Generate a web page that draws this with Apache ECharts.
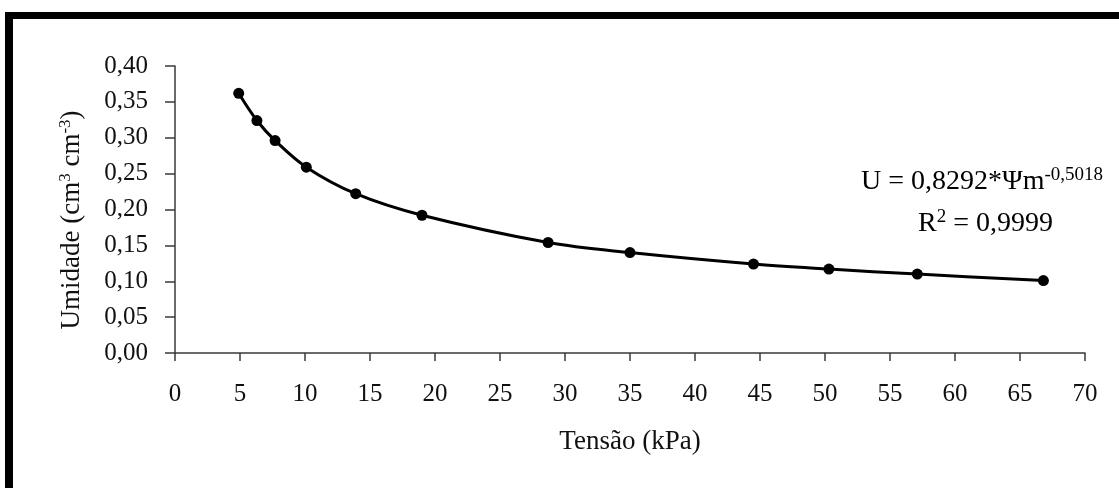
<!DOCTYPE html>
<html>
<head>
<meta charset="utf-8">
<script src="https://cdn.jsdelivr.net/npm/echarts@6/dist/echarts.min.js"></script>
<style>
html,body{margin:0;padding:0;background:#fff;}
#c{width:1119px;height:488px;}
</style>
</head>
<body>
<div id="c"></div>
<script>
// Data
const tensao = [4.9, 6.3, 7.7, 10.1, 13.9, 19.0, 28.7, 35.0, 44.5, 50.3, 57.1, 66.8];
const umidade = [0.362, 0.324, 0.296, 0.259, 0.222, 0.192, 0.154, 0.140, 0.124, 0.117, 0.110, 0.101];
const xTicks = [0, 70, 5];
const yTicks = [0, 0.40, 0.05];
const eqLine1 = 'U = 0,8292*Ψm';
const eqExp = '-0,5018';
const eqLine2a = 'R';
const eqLine2b = '2';
const eqLine2c = ' = 0,9999';
const xName = 'Tensão (kPa)';
const yNameParts = ['Umidade (cm', '3', ' cm', '-3', ')'];

const FONT = '"Liberation Serif", "Times New Roman", serif';
const TXT = '#111';

const chart = echarts.init(document.getElementById('c'), null, {renderer: 'canvas'});
const pts = tensao.map((x, i) => [x, umidade[i]]);

chart.setOption({
  animation: false,
  backgroundColor: '#fff',
  grid: {left: 175, right: 34, top: 66, bottom: 135, containLabel: false},
  xAxis: {
    type: 'value',
    min: xTicks[0], max: xTicks[1], interval: xTicks[2],
    name: xName,
    nameLocation: 'middle',
    nameGap: 75,
    nameTextStyle: {fontFamily: FONT, fontSize: 27, color: TXT},
    axisLine: {show: true, lineStyle: {color: '#3a3a3a', width: 1.5}},
    axisTick: {show: true, length: 8, lineStyle: {color: '#3a3a3a', width: 1.5}},
    axisLabel: {fontFamily: FONT, fontSize: 25, color: TXT, margin: 29},
    splitLine: {show: false}
  },
  yAxis: {
    type: 'value',
    min: yTicks[0], max: yTicks[1], interval: yTicks[2],
    name: '{t|' + yNameParts[0] + '}{s|' + yNameParts[1] + '}{t|' + yNameParts[2] + '}{s|' + yNameParts[3] + '}{t|' + yNameParts[4] + '}',
    nameLocation: 'middle',
    nameGap: 88,
    nameRotate: 90,
    nameTextStyle: {
      fontFamily: FONT, fontSize: 27, color: TXT,
      padding: [0, 21, 0, 0],
      rich: {
        t: {fontFamily: FONT, fontSize: 27, color: TXT},
        s: {fontFamily: FONT, fontSize: 17, color: TXT, verticalAlign: 'top', padding: [0, 0, 13, 0]}
      }
    },
    axisLine: {show: true, lineStyle: {color: '#3a3a3a', width: 1.5}},
    axisTick: {show: true, inside: false, length: 10, lineStyle: {color: '#3a3a3a', width: 1.5}},
    axisLabel: {
      fontFamily: FONT, fontSize: 25, color: TXT, margin: 27,
      formatter: v => v.toFixed(2).replace('.', ',')
    },
    splitLine: {show: false}
  },
  series: [{
    type: 'line',
    data: pts,
    smooth: 0.35,
    symbol: 'circle',
    symbolSize: 11,
    itemStyle: {color: '#000'},
    lineStyle: {color: '#000', width: 3}
  }],
  graphic: [
    {type: 'rect', shape: {x: 5, y: 12, width: 1200, height: 7}, style: {fill: '#000'}},
    {type: 'rect', shape: {x: 5, y: 12, width: 8, height: 600}, style: {fill: '#000'}},
    {
      type: 'text', left: 861, top: 166,
      style: {
        text: '{t|' + eqLine1 + '}{s|' + eqExp + '}',
        rich: {
          t: {fontFamily: FONT, fontSize: 28, color: TXT},
          s: {fontFamily: FONT, fontSize: 19, color: TXT, verticalAlign: 'top', padding: [0, 0, 12, 0]}
        }
      }
    },
    {
      type: 'text', left: 918, top: 208,
      style: {
        text: '{t|' + eqLine2a + '}{s|' + eqLine2b + '}{t|' + eqLine2c + '}',
        rich: {
          t: {fontFamily: FONT, fontSize: 28, color: TXT},
          s: {fontFamily: FONT, fontSize: 19, color: TXT, verticalAlign: 'top', padding: [0, 0, 12, 0]}
        }
      }
    }
  ]
});
</script>
</body>
</html>
